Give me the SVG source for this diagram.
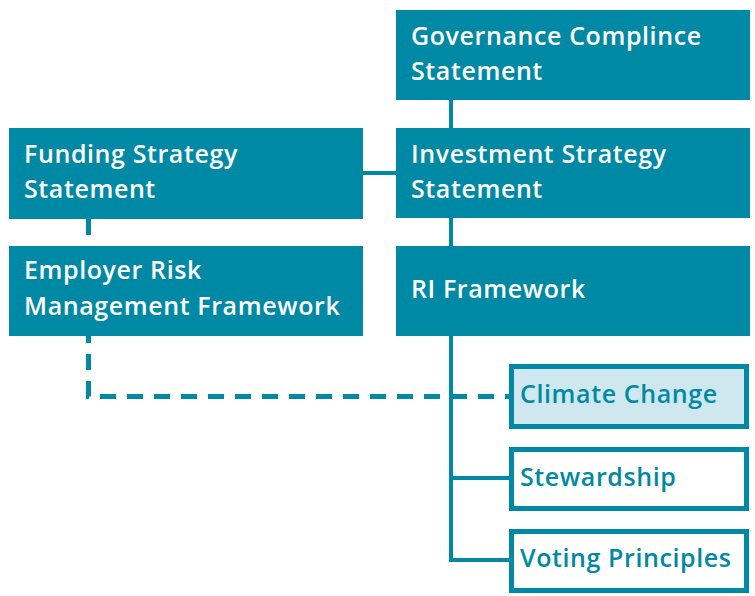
<svg xmlns="http://www.w3.org/2000/svg" width="755" height="596" viewBox="0 0 755 596">
<style>
.box{fill:#0089a5}
.sub{fill:#fff;stroke:#0089a5;stroke-width:5}
.hl{fill:#cfe7ee;stroke:#0089a5;stroke-width:5}
.t{font-family:"Open Sans","DejaVu Sans",sans-serif;font-weight:600;font-size:25px;letter-spacing:0.6px;fill:#fff}
.ts{font-family:"Open Sans","DejaVu Sans",sans-serif;font-weight:600;font-size:25px;letter-spacing:0.6px;fill:#0089a5}
.ln{stroke:#0089a5;stroke-width:4;fill:none}
.dash{stroke:#0089a5;stroke-width:5;fill:none;stroke-dasharray:16 11}
</style>
<g id="connectors">
<path class="dash" d="M88.5 219 V396.5 H509"/>
<line class="ln" x1="451" y1="100" x2="451" y2="128"/>
<line class="ln" x1="363" y1="173" x2="396" y2="173"/>
<line class="ln" x1="451" y1="218" x2="451" y2="246"/>
<path class="ln" d="M451 336 V560 H509 M451 478 H509"/>
</g>
<g id="governance">
<rect class="box" x="396" y="10" width="354" height="90"/>
<text class="t" x="411" y="45">Governance Complince</text>
<text class="t" x="411" y="80">Statement</text>
</g>
<g id="investment">
<rect class="box" x="396" y="128" width="354" height="90"/>
<text class="t" x="411" y="163">Investment Strategy</text>
<text class="t" x="411" y="198">Statement</text>
</g>
<g id="funding">
<rect class="box" x="9" y="128" width="354" height="91"/>
<text class="t" x="24" y="163">Funding Strategy</text>
<text class="t" x="24" y="198">Statement</text>
</g>
<g id="employer">
<rect class="box" x="9" y="246" width="354" height="90"/>
<text class="t" x="24" y="279">Employer Risk</text>
<text class="t" x="24" y="315">Management Framework</text>
</g>
<g id="ri">
<rect class="box" x="396" y="246" width="354" height="90"/>
<text class="t" x="411" y="298">RI Framework</text>
</g>
<g id="climate">
<rect class="hl" x="511.5" y="366.5" width="235" height="60"/>
<text class="ts" x="520" y="403">Climate Change</text>
</g>
<g id="stewardship">
<rect class="sub" x="511.5" y="449.5" width="235" height="59"/>
<text class="ts" x="520" y="486">Stewardship</text>
</g>
<g id="voting">
<rect class="sub" x="511.5" y="531.5" width="235" height="59"/>
<text class="ts" x="520" y="567">Voting Principles</text>
</g>
</svg>
